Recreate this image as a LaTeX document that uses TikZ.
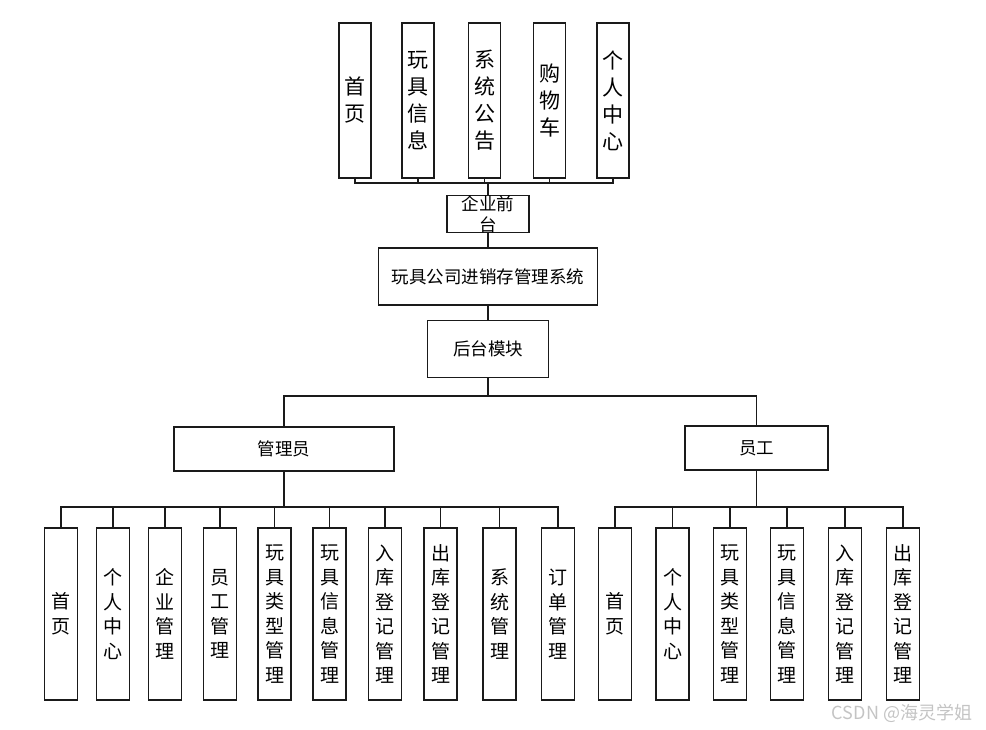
\documentclass[tikz,border=0pt]{standalone}
\usepackage{fontspec}
\setmainfont{Noto Sans CJK SC}
\usetikzlibrary{positioning}
\definecolor{ink}{HTML}{1A1A1A}
\definecolor{mark}{HTML}{C4C4C4}
\tikzset{
  every node/.style={text=black},
  box/.style={draw=ink,line width=1.3pt,fill=white,inner sep=0pt,align=center,font=\fontsize{17.5}{19}\selectfont},
  topcol/.style={box,minimum width=32pt,minimum height=155pt,font=\fontsize{21}{27}\selectfont},
  colbox/.style={box,minimum width=33pt,minimum height=172pt,font=\fontsize{19}{24.5}\selectfont},
  link/.style={draw=ink,line width=1.3pt},
}

\begin{document}
\begin{tikzpicture}[x=1pt,y=-1pt]
\useasboundingbox (0,0) rectangle (986,730);

% front-end columns
\node[topcol] (t1) at (355,100.5) {首\\页};
\node[topcol] (t2) at (418,100.5) {玩\\具\\信\\息};
\node[topcol] (t3) at (484.5,100.5) {系\\统\\公\\告};
\node[topcol] (t4) at (549.5,100.5) {购\\物\\车};
\node[topcol] (t5) at (613,100.5) {个\\人\\中\\心};

% central spine
\node[box,minimum width=82pt,minimum height=36pt,font=\fontsize{17.5}{21}\selectfont] (front) at (488,214) {企业前\\台};
\node[box,minimum width=219pt,minimum height=57pt,below=14pt of front] (sys) {玩具公司进销存管理系统};
\node[box,minimum width=121pt,minimum height=57pt,below=14pt of sys] (back) {后台模块};

% roles
\node[box,minimum width=220pt,minimum height=44pt] (admin) at (284,449) {管理员};
\node[box,minimum width=143pt,minimum height=44pt] (staff) at (756.5,448) {员工};

% admin columns
\node[colbox] (a1) at (61,614) {首\\页};
\node[colbox] (a2) at (113,614) {个\\人\\中\\心};
\node[colbox] (a3) at (165,614) {企\\业\\管\\理};
\node[colbox] (a4) at (220,614) {员\\工\\管\\理};
\node[colbox] (a5) at (274.5,614) {玩\\具\\类\\型\\管\\理};
\node[colbox] (a6) at (329.5,614) {玩\\具\\信\\息\\管\\理};
\node[colbox] (a7) at (385,614) {入\\库\\登\\记\\管\\理};
\node[colbox] (a8) at (440.5,614) {出\\库\\登\\记\\管\\理};
\node[colbox] (a9) at (499.5,614) {系\\统\\管\\理};
\node[colbox] (a10) at (558,614) {订\\单\\管\\理};

% staff columns
\node[colbox] (s1) at (615,614) {首\\页};
\node[colbox] (s2) at (672.5,614) {个\\人\\中\\心};
\node[colbox] (s3) at (730,614) {玩\\具\\类\\型\\管\\理};
\node[colbox] (s4) at (787,614) {玩\\具\\信\\息\\管\\理};
\node[colbox] (s5) at (845,614) {入\\库\\登\\记\\管\\理};
\node[colbox] (s6) at (903,614) {出\\库\\登\\记\\管\\理};

% buses
\coordinate (topbus) at (488,183);
\coordinate (midbus) at (488,396);
\coordinate (abus) at (284,507);
\coordinate (sbus) at (756.5,507);

\draw[link] (front) -- (topbus);
\foreach \t in {t1,t2,t3,t4,t5}
  \draw[link] (\t.south) |- (topbus);
\draw[link] (front) -- (sys);
\draw[link] (sys) -- (back);
\draw[link] (back) -- (midbus);
\draw[link] (midbus) -| (admin);
\draw[link] (midbus) -| (staff);
\draw[link] (admin) -- (abus);
\foreach \a in {a1,a2,a3,a4,a5,a6,a7,a8,a9,a10}
  \draw[link] (abus) -| (\a.north);
\draw[link] (staff) -- (sbus);
\foreach \s in {s1,s2,s3,s4,s5,s6}
  \draw[link] (sbus) -| (\s.north);

\node[font=\fontsize{18}{18}\selectfont,text=mark] (wm) at (902,713) {CSDN @海灵学姐};
\end{tikzpicture}
\end{document}
